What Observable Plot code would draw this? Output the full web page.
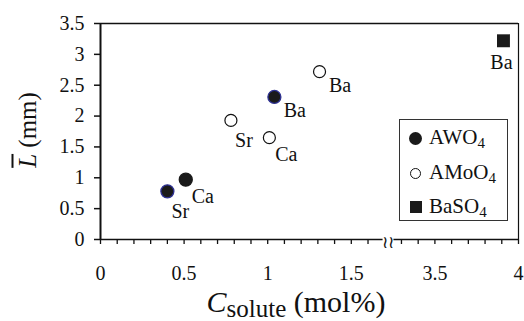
<!DOCTYPE html>
<html><head><meta charset="utf-8">
<script src="https://cdn.jsdelivr.net/npm/d3@7"></script>
<script src="https://cdn.jsdelivr.net/npm/@observablehq/plot@0.6"></script>
<style>
body{margin:0;background:#fff;}
#wrap{position:relative;width:524px;height:321px;font-family:"Liberation Serif","Times New Roman",serif;color:#111;overflow:hidden;}
#wrap svg{position:absolute;left:0;top:0;}
#wrap svg text{font-family:"Liberation Serif","DejaVu Serif",serif;}
.ov{position:absolute;white-space:nowrap;line-height:1;font-family:"Liberation Serif","Times New Roman",serif;}
#ytitle{left:27px;top:130px;font-size:25px;transform:translate(-50%,-50%) rotate(-90deg);}
#ytitle i{text-decoration:overline;}
#xtitle{left:296px;top:287px;font-size:30px;transform:translateX(-50%);}
#xtitle sub{font-size:25px;vertical-align:baseline;position:relative;top:5px;}
#legend{left:399px;top:119px;width:107px;height:100px;border:1px solid #333;background:#fff;}
.row{position:absolute;left:0;height:0;}
.sym{position:absolute;box-sizing:border-box;}
.lt{position:absolute;left:29px;font-size:21px;line-height:21px;}
.lt sub{font-size:15px;vertical-align:baseline;position:relative;top:4px;}
</style></head><body><div id="wrap"></div>
<script>
// ---- data ----
const seriesNames = ["AWO4", "AMoO4", "BaSO4"];
const awo4Elements = ["Sr", "Ca", "Ba"];
const awo4C = [0.40, 0.51, 1.04];
const awo4L = [0.78, 0.97, 2.31];
const amoo4Elements = ["Sr", "Ca", "Ba"];
const amoo4C = [0.78, 1.01, 1.31];
const amoo4L = [1.93, 1.65, 2.72];
const baso4Elements = ["Ba"];
const baso4C = [3.91];
const baso4L = [3.22];
const xTickValues = [0, 0.5, 1, 1.5, 3.5, 4];
const xTickLabels = ["0", "0.5", "1", "1.5", "3.5", "4"];
const yTickValues = [0, 0.5, 1, 1.5, 2, 2.5, 3, 3.5];
const yTickLabels = ["0", "0.5", "1", "1.5", "2", "2.5", "3", "3.5"];

// broken x axis: values above the gap are shifted left
const gapShift = 1.5;
const toDisplay = c => (c < 2.5 ? c : c - gapShift);

const mk = (series, els, cs, ls) => els.map((el, i) => ({series, el, c: cs[i], L: ls[i]}));
const awo4 = mk(seriesNames[0], awo4Elements, awo4C, awo4L);
const amoo4 = mk(seriesNames[1], amoo4Elements, amoo4C, amoo4L);
const baso4 = mk(seriesNames[2], baso4Elements, baso4C, baso4L);
const circles = awo4.concat(amoo4);

const X = d => toDisplay(d.c);
const xDisp = xTickValues.map(toDisplay);
const minorLeft = d3.range(0, 1.65, 0.1);
const minorRight = d3.range(3.3, 4.05, 0.1);
const minor = minorLeft.concat(minorRight).map(toDisplay);
const bottomSegments = [{a: 0, b: 1.69}, {a: 3.255, b: 4}];

const font = "Liberation Serif";
const ink = "#111";

const chart = Plot.plot({
  width: 524, height: 321,
  marginLeft: 100, marginRight: 6, marginTop: 23, marginBottom: 82,
  style: {fontFamily: font, fontSize: "20px", color: ink, background: "#fff", overflow: "visible"},
  x: {domain: [0, toDisplay(4)]},
  y: {domain: [0, 3.5]},
  marks: [
    Plot.axisY(yTickValues, {tickSize: 6, tickPadding: 10, strokeWidth: 1.5, fontSize: 20, fontFamily: font, label: null,
      tickFormat: d => yTickLabels[yTickValues.indexOf(d)]}),
    Plot.axisX(minor, {tickSize: 5, strokeWidth: 1.3, text: null, label: null}),
    Plot.axisX(xDisp, {tickSize: 0, tickPadding: 26, fontSize: 20, fontFamily: font, label: null,
      tickFormat: d => xTickLabels[xDisp.indexOf(d)]}),
    // frame
    Plot.ruleX([0], {y1: 0, y2: 3.5, stroke: ink, strokeWidth: 2}),
    Plot.ruleX([toDisplay(4)], {y1: 0, y2: 3.5, stroke: ink, strokeWidth: 1.2}),
    Plot.ruleY([3.5], {x1: 0, x2: toDisplay(4), stroke: ink, strokeWidth: 1.3}),
    Plot.ruleY(bottomSegments, {y: 0, x1: d => toDisplay(d.a), x2: d => toDisplay(d.b), stroke: ink, strokeWidth: 1.5}),
    Plot.text([1.722], {x: d => d, y: 0, text: () => "\u2240\u2240", fontSize: 17, dy: 3, fill: ink}),
    // points
    Plot.dot(amoo4, {x: X, y: "L", r: 6, fill: "#fff", stroke: ink, strokeWidth: 1.2}),
    Plot.dot(awo4, {x: X, y: "L", r: 6.5, fill: "#1a1a1a", stroke: d => d.el === "Ca" ? "#1a1a1a" : "#2e3192", strokeWidth: 1.3}),
    Plot.dot(baso4, {x: X, y: "L", r: 7.3, symbol: "square", fill: "#1a1a1a"}),
    // labels
    Plot.text(circles.filter(d => d.el === "Sr"), {x: X, y: "L", text: "el", dx: 13, dy: 20.5, fontSize: 20, fontFamily: font, fill: ink}),
    Plot.text(circles.filter(d => d.el === "Ca"), {x: X, y: "L", text: "el", dx: 17, dy: 16.5, fontSize: 20, fontFamily: font, fill: ink}),
    Plot.text(circles.filter(d => d.el === "Ba"), {x: X, y: "L", text: "el", dx: 20.5, dy: 13.5, fontSize: 20, fontFamily: font, fill: ink}),
    Plot.text(baso4, {x: X, y: "L", text: "el", dx: -2, dy: 22, fontSize: 20, fontFamily: font, fill: ink})
  ]
});

const wrap = document.getElementById("wrap");
wrap.appendChild(chart);

const sub4 = s => s.replace(/4$/, "<sub>4</sub>");
const add = (html, id) => { const d = document.createElement("div"); d.className = "ov"; d.id = id; d.innerHTML = html; wrap.appendChild(d); return d; };
add('<i>L</i> (mm)', "ytitle");
add('<i>C</i><sub>solute</sub> (mol%)', "xtitle");
const lg = add("", "legend");
const rowY = [18, 53, 87];
const symHtml = [
  '<span class="sym" style="left:9px;top:-6.5px;width:13px;height:13px;border-radius:50%;background:#1a1a1a"></span>',
  '<span class="sym" style="left:10px;top:-5.5px;width:11px;height:11px;border-radius:50%;border:1.2px solid #111;background:#fff"></span>',
  '<span class="sym" style="left:10px;top:-6px;width:12px;height:12px;background:#1a1a1a"></span>'
];
seriesNames.forEach((s, i) => {
  const r = document.createElement("div");
  r.className = "row";
  r.style.top = rowY[i] + "px";
  r.innerHTML = symHtml[i] + '<span class="lt" style="top:-10.6px">' + sub4(s) + '</span>';
  lg.appendChild(r);
});
</script></body></html>
